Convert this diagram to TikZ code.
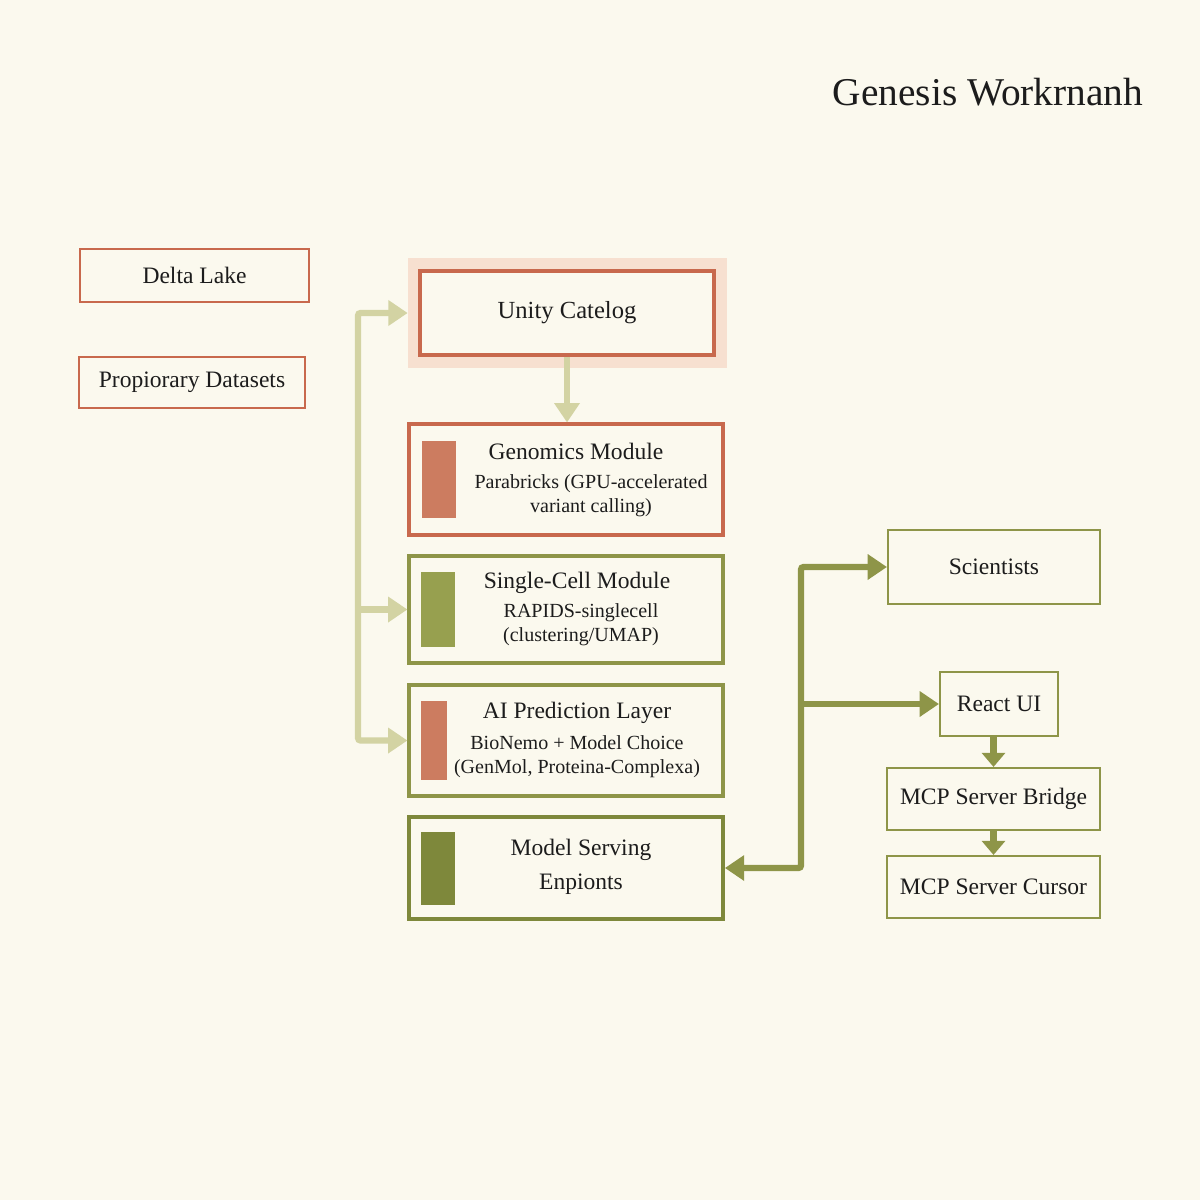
\documentclass[tikz,border=0pt]{standalone}
\usepackage{fontspec}
\setmainfont{Liberation Serif}
\usetikzlibrary{calc,arrows.meta}
\definecolor{gwcream}{HTML}{FBF9EE}
\definecolor{gwrust}{HTML}{C8694D}
\definecolor{gwrustbar}{HTML}{CC7C60}
\definecolor{gwpeach}{HTML}{F7E0D0}
\definecolor{gwolive}{HTML}{8E9548}
\definecolor{gwolivedark}{HTML}{7E883B}
\definecolor{gwolivebar}{HTML}{97A04F}
\definecolor{gwsage}{HTML}{D3D3A3}
\definecolor{gwink}{HTML}{1C1C1C}

\tikzset{
    box/.style={draw, fill=gwcream, inner sep=0pt, text=gwink,
      font=\fontsize{13.4}{16}\selectfont},
    rustbox/.style={box, draw=gwrust, line width=1.2pt},
    olivebox/.style={box, draw=gwolive, line width=1.2pt},
    modbox/.style={box, minimum width=6.28cm, line width=1.8pt},
    modbar/.style={inner sep=0pt, anchor=west, minimum width=0.68cm},
    modtitle/.style={text=gwink, inner sep=0pt, font=\fontsize{13.4}{16}\selectfont},
    modsub/.style={text=gwink, inner sep=0pt, align=center,
      font=\fontsize{11.4}{13.6}\selectfont},
    sagearrow/.style={gwsage, line width=3.6pt, rounded corners=1.5pt,
      -{Triangle[length=11pt,width=14pt]}},
    olivearrow/.style={gwolive, line width=3.6pt, rounded corners=1.5pt,
      -{Triangle[length=11pt,width=14pt]}}
}

\begin{document}
\begin{tikzpicture}[x=0.02cm, y=-0.02cm]
    \fill[gwcream] (0,0) rectangle (1200,1200);
    \useasboundingbox (0,0) rectangle (1200,1200);

    \node[text=gwink, font=\fontsize{22.4}{26}\selectfont] (title) at (988,92)
      {Genesis Workrnanh};

    % data sources
    \node[rustbox, minimum width=4.58cm, minimum height=1.06cm] (delta) at (194.5,275.5)
      {Delta Lake};
    \node[rustbox, minimum width=4.52cm, minimum height=1.02cm] (propdata) at (192,382.5)
      {Propiorary Datasets};

    % catalog and modules
    \node[fill=gwpeach, minimum width=6.38cm, minimum height=2.2cm, inner sep=0pt]
      (unityhl) at (567.5,313) {};
    \node[box, draw=gwrust, line width=2pt, minimum width=5.88cm, minimum height=1.68cm,
      font=\fontsize{14}{16}\selectfont] (unity) at (567,313) {Unity Catelog};

    \node[modbox, draw=gwrust, minimum height=2.22cm] (geno) at (566,479.5) {};
    \node[modbar, fill=gwrustbar, minimum height=1.56cm] (genobar)
      at ([xshift=0.28cm]geno.west) {};
    \node[modtitle] (genotitle) at (576,451) {Genomics Module};
    \node[modsub] (genosub) at (591,496)
      {Parabricks (GPU-accelerated\\variant calling)};

    \node[modbox, draw=gwolive, minimum height=2.14cm] (single) at (566,609.5) {};
    \node[modbar, fill=gwolivebar, minimum height=1.5cm] (singlebar)
      at ([xshift=0.26cm]single.west) {};
    \node[modtitle] (singletitle) at (577,583) {Single-Cell Module};
    \node[modsub] (singlesub) at (581,625)
      {RAPIDS-singlecell\\(clustering/UMAP)};

    \node[modbox, draw=gwolive, minimum height=2.22cm] (aipred) at (566,740.5) {};
    \node[modbar, fill=gwrustbar, minimum width=0.52cm, minimum height=1.58cm] (aibar)
      at ([xshift=0.26cm]aipred.west) {};
    \node[modtitle] (aititle) at (577,713) {AI Prediction Layer};
    \node[modsub] (aisub) at (577,757)
      {BioNemo + Model Choice\\(GenMol, Proteina-Complexa)};

    \node[modbox, draw=gwolivedark, line width=2.2pt, minimum height=2.04cm] (serving)
      at (566,868) {};
    \node[modbar, fill=gwolivedark, minimum height=1.46cm] (servbar)
      at ([xshift=0.28cm]serving.west) {};
    \node[modtitle, align=center] (servtitle) at (581,867)
      {Model Serving\\[3pt]Enpionts};

    % users and tools
    \node[olivebox, minimum width=4.24cm, minimum height=1.48cm] (sci) at (994,567)
      {Scientists};
    \node[olivebox, minimum width=2.36cm, minimum height=1.28cm] (react) at (999,704)
      {React UI};
    \node[olivebox, minimum width=4.26cm, minimum height=1.24cm] (bridge) at (993.5,799)
      {MCP Server Bridge};
    \node[olivebox, minimum width=4.26cm, minimum height=1.24cm] (cursor) at (993.5,887)
      {MCP Server Cursor};

    \coordinate (lbus) at (358,740.5);
    \coordinate (rhub) at (801,868);

    \draw[sagearrow, {Triangle[length=11pt,width=14pt]}-{Triangle[length=11pt,width=14pt]}]
      (unityhl.west) -| (lbus) -- (aipred.west);
    \draw[sagearrow] (lbus |- single.west) -- (single.west);
    \draw[sagearrow] (unity.south) -- (unity.south |- geno.north);

    \draw[olivearrow, {Triangle[length=11pt,width=14pt]}-{Triangle[length=11pt,width=14pt]}]
      (sci.west) -| (rhub) -- (serving.east);
    \draw[olivearrow] (rhub |- react.west) -- (react.west);
    \draw[olivearrow, -{Triangle[length=8pt,width=13pt]}] (react.south -| bridge.north)
      -- (bridge.north);
    \draw[olivearrow, -{Triangle[length=8pt,width=13pt]}] (bridge.south) -- (cursor.north);
\end{tikzpicture}
\end{document}
